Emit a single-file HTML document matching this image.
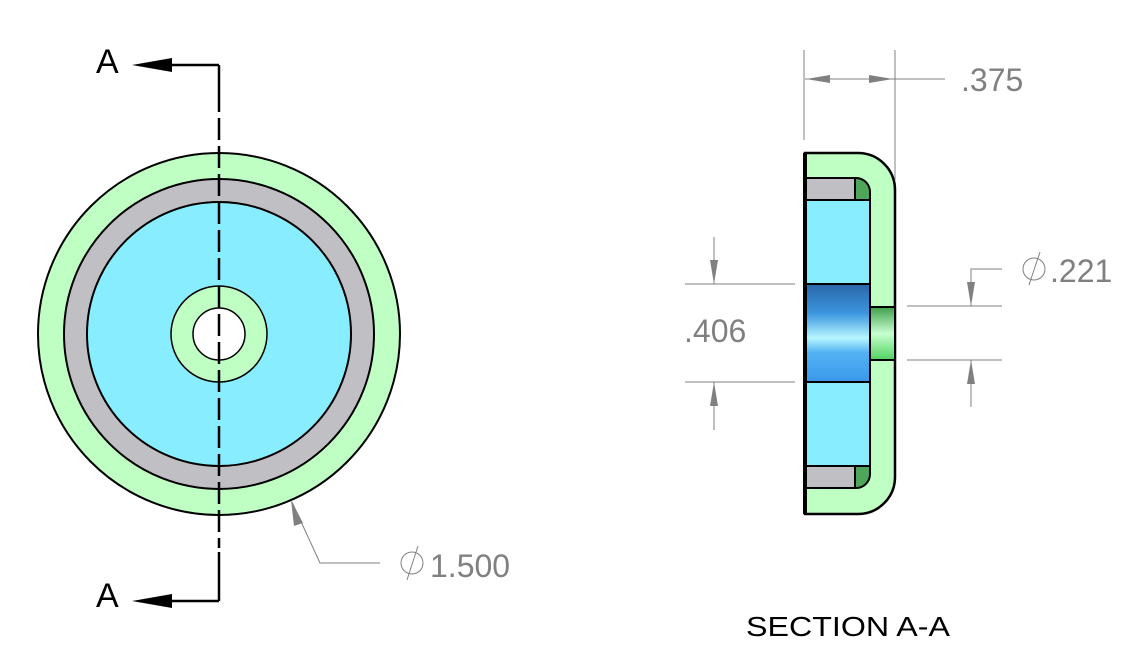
<!DOCTYPE html>
<html><head><meta charset="utf-8"><style>html,body{margin:0;padding:0;background:#fff}svg{display:block}</style></head>
<body>
<svg width="1143" height="665" viewBox="0 0 1143 665" xmlns="http://www.w3.org/2000/svg">
<defs>
<linearGradient id="bl" x1="0" y1="0" x2="0" y2="1">
<stop offset="0" stop-color="#2a66a8"/><stop offset="0.3" stop-color="#3c96e0"/><stop offset="0.55" stop-color="#b6f6ff"/><stop offset="0.7" stop-color="#52b2f2"/><stop offset="1" stop-color="#3a98ea"/></linearGradient>
<linearGradient id="gr" x1="0" y1="0" x2="0" y2="1">
<stop offset="0" stop-color="#3fa04a"/><stop offset="0.5" stop-color="#c8ffd0"/><stop offset="1" stop-color="#4fd35f"/></linearGradient>
</defs>
<circle cx="219" cy="334" r="181" fill="#bfffc4" stroke="#000" stroke-width="2"/>
<circle cx="219" cy="334" r="155" fill="#bfbfc4" stroke="#000" stroke-width="2"/>
<circle cx="219" cy="334" r="132" fill="#88eeff" stroke="#000" stroke-width="2"/>
<circle cx="219" cy="334" r="48" fill="#bfffc4" stroke="#000" stroke-width="1.5"/>
<circle cx="219" cy="334" r="26" fill="#fff" stroke="#000" stroke-width="1.5"/>
<path d="M219 65 V112" stroke="#000" stroke-width="2.5" fill="none"/>
<path d="M219 118 V548" stroke="#000" stroke-width="2.5" fill="none" stroke-dasharray="22 6"/>
<path d="M219 552 V601" stroke="#000" stroke-width="2.5" fill="none"/>
<path d="M219 65 H170" stroke="#000" stroke-width="2.5"/>
<path d="M219 601 H170" stroke="#000" stroke-width="2.5"/>
<polygon points="132,65 172,58 172,72" fill="#000"/>
<polygon points="132,601 172,594 172,608" fill="#000"/>
<text x="96" y="73" font-family="Liberation Sans, sans-serif" font-size="34" fill="#000">A</text>
<text x="96" y="607" font-family="Liberation Sans, sans-serif" font-size="34" fill="#000">A</text>
<g stroke="#808080" stroke-width="1" fill="none"><path d="M292 502 L320 563 H380"/></g>
<polygon points="291,500 303,523 294,526" fill="#808080"/>
<circle cx="412" cy="563" r="11" fill="none" stroke="#808080" stroke-width="1"/>
<path d="M407 580 L418 546" stroke="#808080" stroke-width="1"/>
<text x="430" y="577" font-family="Liberation Sans, sans-serif" font-size="32" fill="#808080">1.500</text>
<path d="M805 153 H858 A37 37 0 0 1 895 190 V477 A37 37 0 0 1 858 514 H805 Z" fill="#bfffc4" stroke="#000" stroke-width="2.5"/>
<rect x="806" y="178" width="49" height="22" fill="#bfbfc4" stroke="#000" stroke-width="2"/>
<rect x="806" y="466" width="49" height="22" fill="#bfbfc4" stroke="#000" stroke-width="2"/>
<path d="M855 178 H856 A14 14 0 0 1 870 192 V200 H855 Z" fill="#4fa65a" stroke="#000" stroke-width="2"/>
<path d="M855 488 H856 A14 14 0 0 0 870 474 V466 H855 Z" fill="#4fa65a" stroke="#000" stroke-width="2"/>
<rect x="806" y="200" width="64" height="84" fill="#88eeff" stroke="#000" stroke-width="2"/>
<rect x="806" y="382" width="64" height="84" fill="#88eeff" stroke="#000" stroke-width="2"/>
<rect x="806" y="284" width="64" height="98" fill="url(#bl)" stroke="#000" stroke-width="2"/>
<rect x="870" y="307" width="25" height="53" fill="url(#gr)" stroke="#000" stroke-width="2"/>
<path d="M805 153 V514" stroke="#000" stroke-width="4"/>
<g stroke="#808080" stroke-width="1" fill="none">
<path d="M804 50 V140"/><path d="M895 50 V180"/><path d="M805 79 H945"/>
<path d="M685 284 H795"/><path d="M685 382 H795"/><path d="M714 237 V284"/><path d="M714 382 V430"/>
<path d="M907 306 H1002"/><path d="M907 360 H1002"/><path d="M971 306 V269 H1002"/><path d="M971 360 V407"/>
</g>
<g fill="#808080">
<polygon points="806,79 830,75 830,83"/><polygon points="893,79 869,75 869,83"/>
<polygon points="714,284 710,260 718,260"/><polygon points="714,382 710,406 718,406"/>
<polygon points="971,306 967,282 975,282"/><polygon points="971,360 967,384 975,384"/>
</g>
<text x="961" y="91" font-family="Liberation Sans, sans-serif" font-size="32" fill="#808080">.375</text>
<text x="684" y="342" font-family="Liberation Sans, sans-serif" font-size="32" fill="#808080">.406</text>
<circle cx="1034" cy="269" r="11" fill="none" stroke="#808080" stroke-width="1"/>
<path d="M1029 285 L1040 252" stroke="#808080" stroke-width="1"/>
<text x="1050" y="282" font-family="Liberation Sans, sans-serif" font-size="32" fill="#808080">.221</text>
<text x="746" y="636" font-family="Liberation Sans, sans-serif" font-size="28" fill="#000" textLength="204" lengthAdjust="spacingAndGlyphs">SECTION A-A</text>
</svg>
</body></html>
